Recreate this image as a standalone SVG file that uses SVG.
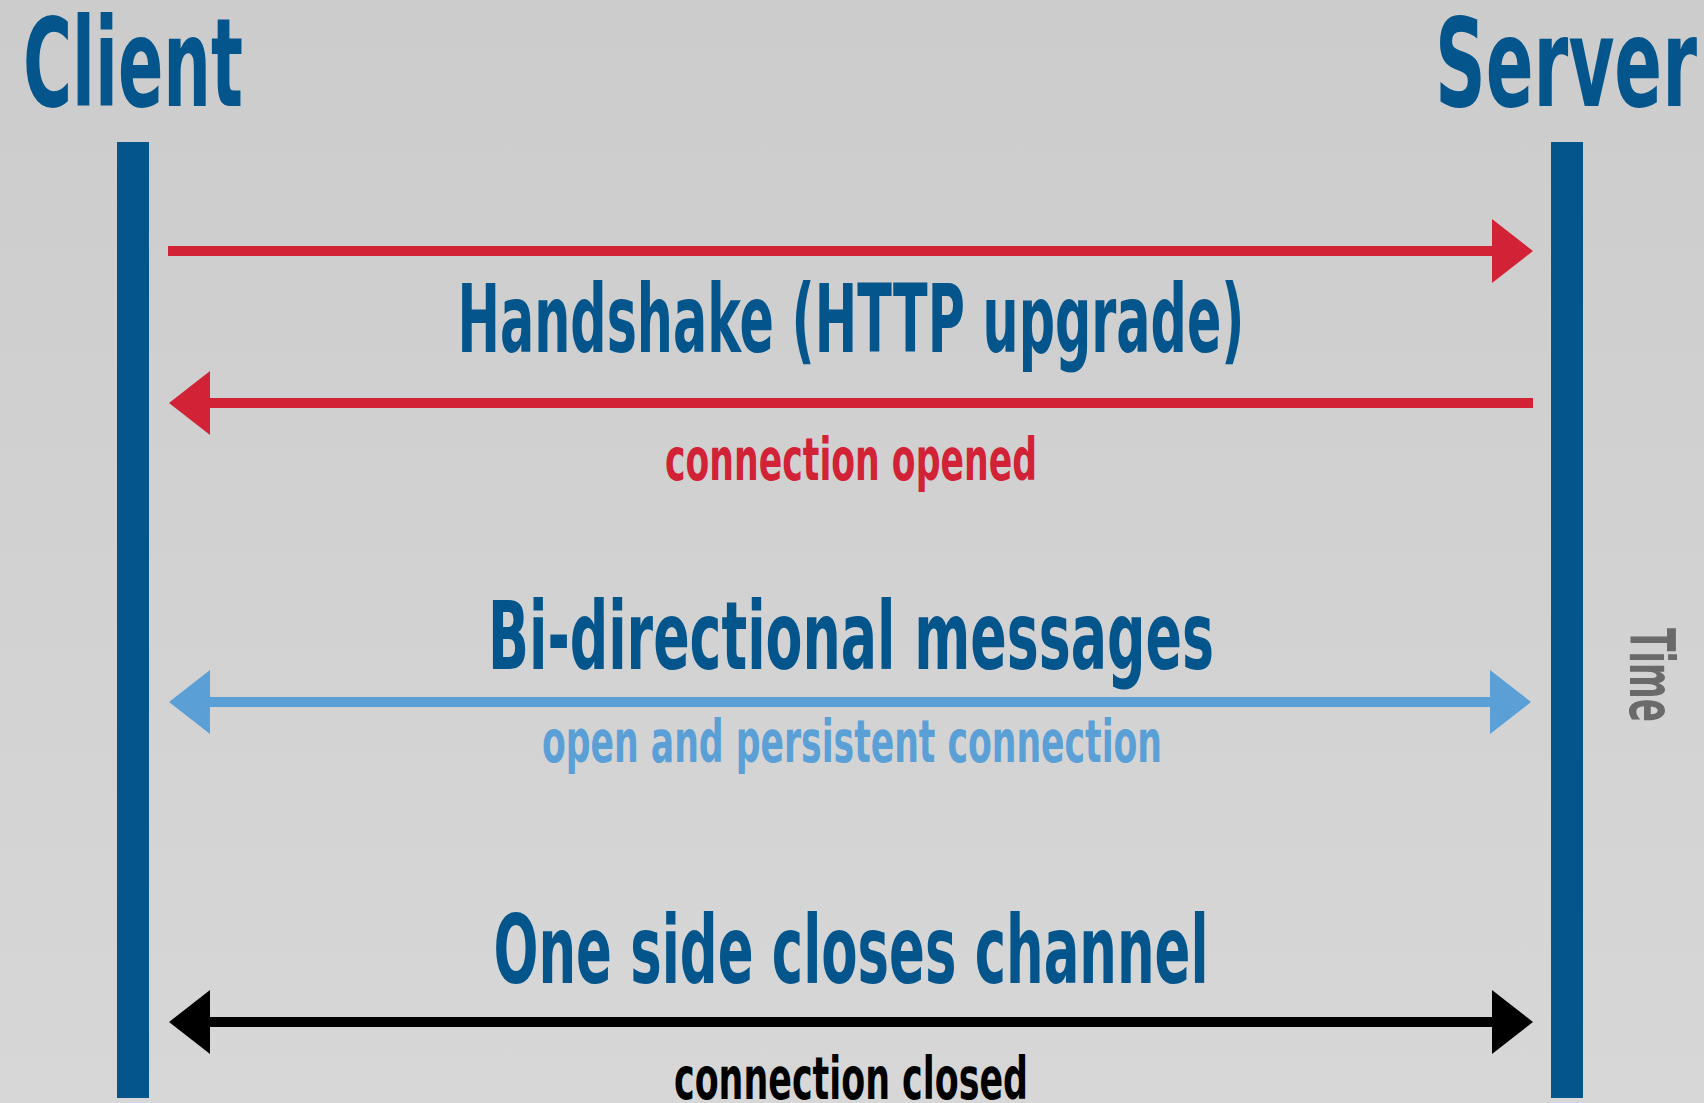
<svg xmlns="http://www.w3.org/2000/svg" width="1704" height="1103" viewBox="0 0 1704 1103">
  <defs>
    <linearGradient id="bg" x1="0" y1="0" x2="0" y2="1">
      <stop offset="0" stop-color="#cccccc"/>
      <stop offset="1" stop-color="#d7d7d7"/>
    </linearGradient>
    <marker id="headRed" markerUnits="userSpaceOnUse" markerWidth="41" markerHeight="64" refX="0" refY="32" orient="auto-start-reverse" viewBox="0 0 41 64">
      <path d="M0,0 L41,32 L0,64 Z" fill="#d22235"/>
    </marker>
    <marker id="headBlue" markerUnits="userSpaceOnUse" markerWidth="41" markerHeight="64" refX="0" refY="32" orient="auto-start-reverse" viewBox="0 0 41 64">
      <path d="M0,0 L41,32 L0,64 Z" fill="#5aa0d7"/>
    </marker>
    <marker id="headBlack" markerUnits="userSpaceOnUse" markerWidth="41" markerHeight="64" refX="0" refY="32" orient="auto-start-reverse" viewBox="0 0 41 64">
      <path d="M0,0 L41,32 L0,64 Z" fill="#000000"/>
    </marker>
  </defs>
  <style>
    text { font-family: "DejaVu Sans Condensed", "DejaVu Sans", sans-serif; font-weight: bold; }
    .title { fill: #03558c; font-size: 123px; }
    .big { fill: #03558c; font-size: 94px; text-anchor: middle; }
    .small { font-size: 58px; text-anchor: middle; }
    .bar { fill: #03558c; }
    .conn { fill: none; stroke-width: 10; }
  </style>
  <rect x="0" y="0" width="1704" height="1103" fill="url(#bg)"/>

  <g id="client">
    <text class="title" x="23" y="106" textLength="220" lengthAdjust="spacingAndGlyphs">Client</text>
    <rect class="bar" x="117" y="142" width="32" height="956"/>
  </g>
  <g id="server">
    <text class="title" x="1435" y="106" textLength="262" lengthAdjust="spacingAndGlyphs">Server</text>
    <rect class="bar" x="1551" y="142" width="32" height="956"/>
  </g>

  <g id="connectors">
    <line class="conn" x1="168" y1="251" x2="1492" y2="251" stroke="#d22235" marker-end="url(#headRed)"/>
    <line class="conn" x1="1533" y1="403" x2="210" y2="403" stroke="#d22235" marker-end="url(#headRed)"/>
    <line class="conn" x1="210" y1="702" x2="1490" y2="702" stroke="#5aa0d7" marker-start="url(#headBlue)" marker-end="url(#headBlue)"/>
    <line class="conn" x1="210" y1="1022" x2="1492" y2="1022" stroke="#000000" marker-start="url(#headBlack)" marker-end="url(#headBlack)"/>
  </g>

  <g id="handshake">
    <text class="big" x="851" y="352" textLength="787" lengthAdjust="spacingAndGlyphs">Handshake (HTTP upgrade)</text>
    <text class="small" x="851" y="480" fill="#d22235" textLength="372" lengthAdjust="spacingAndGlyphs">connection opened</text>
  </g>
  <g id="messages">
    <text class="big" x="851" y="669" textLength="726" lengthAdjust="spacingAndGlyphs">Bi-directional messages</text>
    <text class="small" x="852" y="762" fill="#5aa0d7" font-size="55" textLength="620" lengthAdjust="spacingAndGlyphs">open and persistent connection</text>
  </g>
  <g id="close">
    <text class="big" x="851" y="983" textLength="715" lengthAdjust="spacingAndGlyphs">One side closes channel</text>
    <text class="small" x="851" y="1099" fill="#000000" textLength="354" lengthAdjust="spacingAndGlyphs">connection closed</text>
  </g>
  <g id="time">
    <text transform="translate(1630,628) rotate(90)" x="0" y="0" fill="#6a6a6a" font-size="62" textLength="94" lengthAdjust="spacingAndGlyphs">Time</text>
  </g>
</svg>
